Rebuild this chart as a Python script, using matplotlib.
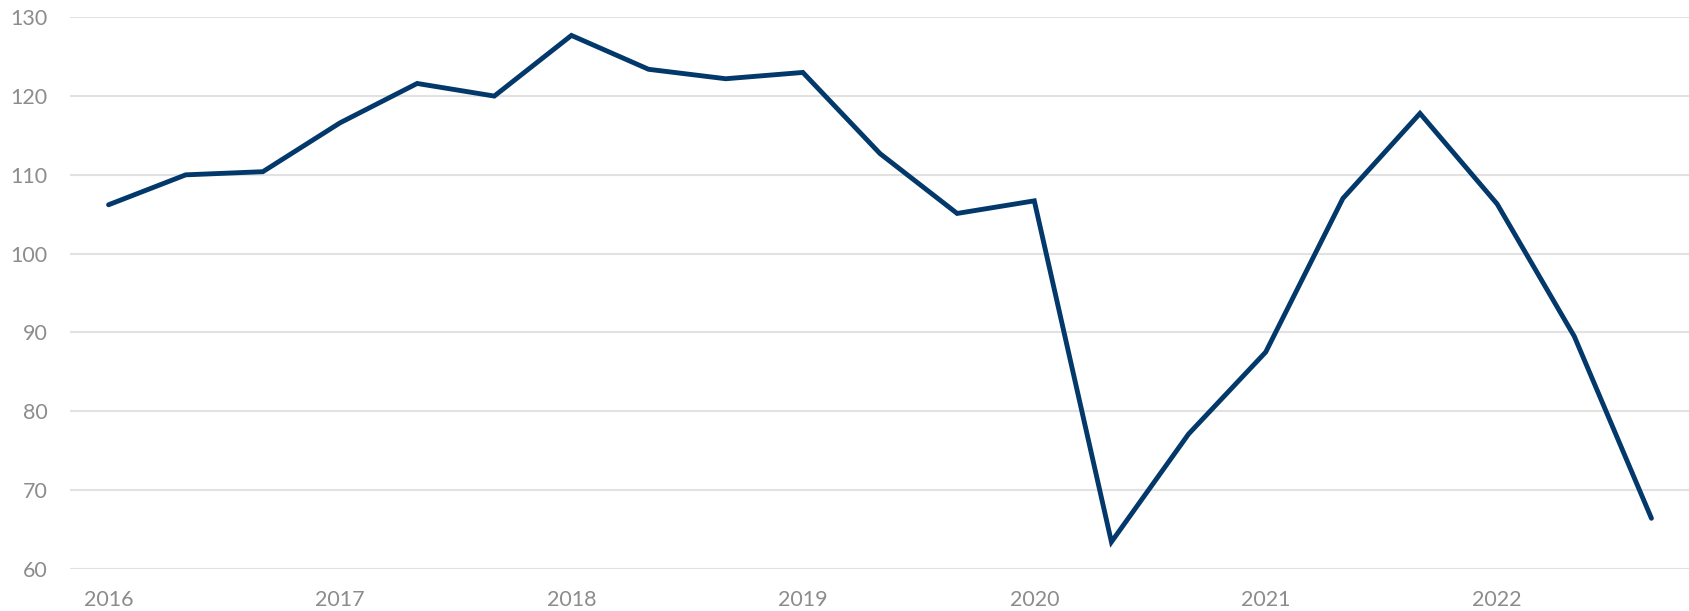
import numpy as np
import matplotlib.pyplot as plt

# index values, one every four months
values = [106.2, 110.0, 110.4, 116.6, 121.6, 120.0, 127.7, 123.4, 122.2, 123.0,
          112.7, 105.1, 106.7, 63.4, 77.1, 87.5, 107.0, 117.8, 106.3, 89.5, 66.4]
years = ['2016', '2017', '2018', '2019', '2020', '2021', '2022']

plt.rcParams['font.family'] = ['Lato', 'DejaVu Sans']

fig = plt.figure(figsize=(16.9, 6.11), dpi=100)
ax = fig.add_axes([70/1690, 1 - 568.7/611, 1 - 70/1690, (568.7 - 17.3)/611])

x = np.arange(len(values))
ax.plot(x, values, color='#03386b', lw=3.5, solid_joinstyle='miter',
        solid_capstyle='round', zorder=3)

ax.set_xlim(-0.5, len(values) - 0.5)
ax.set_ylim(60, 130)
ax.set_yticks(np.arange(60, 131, 10))
ax.set_xticks(np.arange(0, len(values), 3))
ax.set_xticklabels(years)

ax.grid(axis='y', color='#e2e2e2', lw=1.5)
ax.set_axisbelow(True)
for s in ax.spines.values():
    s.set_visible(False)
ax.tick_params(axis='both', length=0, labelsize=15.5, colors='#8c8c8c')
ax.tick_params(axis='y', pad=16)
ax.tick_params(axis='x', pad=15)

fig.savefig('out.png', dpi=100)
